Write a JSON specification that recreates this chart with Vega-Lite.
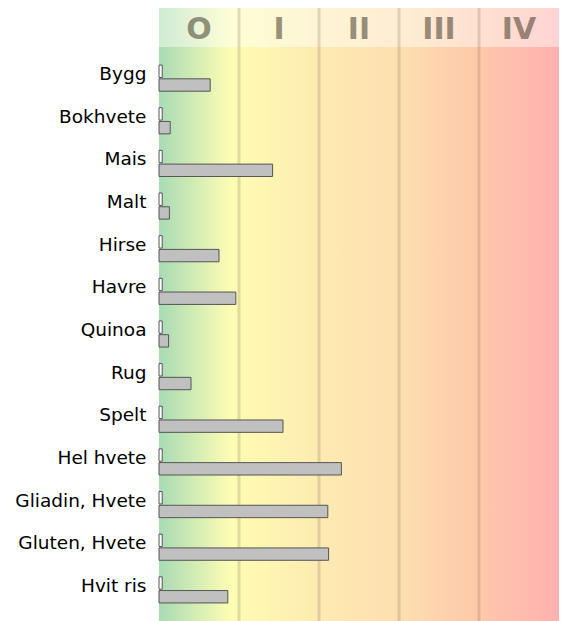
{
  "$schema": "https://vega.github.io/schema/vega-lite/v6.json",
  "padding": {"left": 14, "top": 6, "right": 3, "bottom": 0},
  "spacing": 0,
  "bounds": "flush",
  "config": {"view": {"stroke": null}, "font": "DejaVu Sans"},
  "datasets": {
    "band": [{"a": 0, "b": 5}],
    "lines": [{"v": 1}, {"v": 2}, {"v": 3}, {"v": 4}],
    "classes": [
      {"c": 0.5, "label": "O"},
      {"c": 1.5, "label": "I"},
      {"c": 2.5, "label": "II"},
      {"c": 3.5, "label": "III"},
      {"c": 4.5, "label": "IV"}
    ],
    "bars": [
      {"food": "Bygg", "series": "a", "value": 0.04},
      {"food": "Bygg", "series": "b", "value": 0.64},
      {"food": "Bokhvete", "series": "a", "value": 0.04},
      {"food": "Bokhvete", "series": "b", "value": 0.14},
      {"food": "Mais", "series": "a", "value": 0.04},
      {"food": "Mais", "series": "b", "value": 1.42},
      {"food": "Malt", "series": "a", "value": 0.04},
      {"food": "Malt", "series": "b", "value": 0.13},
      {"food": "Hirse", "series": "a", "value": 0.04},
      {"food": "Hirse", "series": "b", "value": 0.75},
      {"food": "Havre", "series": "a", "value": 0.04},
      {"food": "Havre", "series": "b", "value": 0.96},
      {"food": "Quinoa", "series": "a", "value": 0.04},
      {"food": "Quinoa", "series": "b", "value": 0.12},
      {"food": "Rug", "series": "a", "value": 0.04},
      {"food": "Rug", "series": "b", "value": 0.40},
      {"food": "Spelt", "series": "a", "value": 0.04},
      {"food": "Spelt", "series": "b", "value": 1.55},
      {"food": "Hel hvete", "series": "a", "value": 0.04},
      {"food": "Hel hvete", "series": "b", "value": 2.28},
      {"food": "Gliadin, Hvete", "series": "a", "value": 0.04},
      {"food": "Gliadin, Hvete", "series": "b", "value": 2.11},
      {"food": "Gluten, Hvete", "series": "a", "value": 0.04},
      {"food": "Gluten, Hvete", "series": "b", "value": 2.12},
      {"food": "Hvit ris", "series": "a", "value": 0.04},
      {"food": "Hvit ris", "series": "b", "value": 0.86}
    ]
  },
  "vconcat": [
    {
      "width": 400,
      "height": 39,
      "layer": [
        {
          "data": {"name": "band"},
          "mark": {"type": "rect", "fill": {"gradient": "linear", "x1": 0, "x2": 1, "y1": 0, "y2": 0, "stops": [
            {"offset": 0, "color": "#a8dbb4"},
            {"offset": 0.18, "color": "#fefdb4"},
            {"offset": 0.2, "color": "#fefbb2"},
            {"offset": 0.4, "color": "#fdebb2"},
            {"offset": 0.6, "color": "#fddfb0"},
            {"offset": 0.8, "color": "#fec8aa"},
            {"offset": 1, "color": "#ffb1b0"}
          ]}},
          "encoding": {
            "x": {"field": "a", "type": "quantitative", "scale": {"domain": [0, 5], "nice": false}, "axis": null},
            "x2": {"field": "b"}
          }
        },
        {
          "data": {"name": "band"},
          "mark": {"type": "rect", "fill": "#ffffff", "opacity": 0.45},
          "encoding": {
            "x": {"field": "a", "type": "quantitative"},
            "x2": {"field": "b"}
          }
        },
        {
          "data": {"name": "lines"},
          "mark": {"type": "rule", "stroke": "#7a6a50", "strokeWidth": 3, "opacity": 0.22},
          "encoding": {"x": {"field": "v", "type": "quantitative"}}
        },
        {
          "data": {"name": "classes"},
          "mark": {"type": "text", "fontSize": 30, "fontWeight": "bold", "font": "DejaVu Sans", "fill": "#2a2010", "opacity": 0.47, "baseline": "middle", "align": "center", "dy": 2},
          "encoding": {
            "x": {"field": "c", "type": "quantitative"},
            "text": {"field": "label"}
          }
        }
      ]
    },
    {
      "width": 400,
      "height": 574,
      "layer": [
        {
          "data": {"name": "band"},
          "mark": {"type": "rect", "fill": {"gradient": "linear", "x1": 0, "x2": 1, "y1": 0, "y2": 0, "stops": [
            {"offset": 0, "color": "#a8dbb4"},
            {"offset": 0.18, "color": "#fefdb4"},
            {"offset": 0.2, "color": "#fefbb2"},
            {"offset": 0.4, "color": "#fdebb2"},
            {"offset": 0.6, "color": "#fddfb0"},
            {"offset": 0.8, "color": "#fec8aa"},
            {"offset": 1, "color": "#ffb1b0"}
          ]}},
          "encoding": {
            "x": {"field": "a", "type": "quantitative", "scale": {"domain": [0, 5], "nice": false}, "axis": null},
            "x2": {"field": "b"}
          }
        },
        {
          "data": {"name": "lines"},
          "mark": {"type": "rule", "stroke": "#7a6a50", "strokeWidth": 3, "opacity": 0.22},
          "encoding": {"x": {"field": "v", "type": "quantitative"}}
        },
        {
          "data": {"name": "bars"},
          "mark": {"type": "bar", "stroke": "#555555", "strokeWidth": 1},
          "encoding": {
            "y": {"field": "food", "type": "nominal", "sort": null, "scale": {"paddingInner": 0, "paddingOuter": 0.23},
              "axis": {"title": null, "domain": false, "ticks": false, "labelFontSize": 18.5, "labelFont": "DejaVu Sans", "labelColor": "#000000", "labelPadding": 13, "labelOffset": -4}},
            "yOffset": {"field": "series", "type": "nominal", "scale": {"paddingInner": 0.1, "paddingOuter": 0.6}},
            "x": {"field": "value", "type": "quantitative"},
            "fill": {"field": "series", "type": "nominal", "scale": {"domain": ["a", "b"], "range": ["#ffffff", "#c0c0c0"]}, "legend": null}
          }
        }
      ]
    }
  ]
}
